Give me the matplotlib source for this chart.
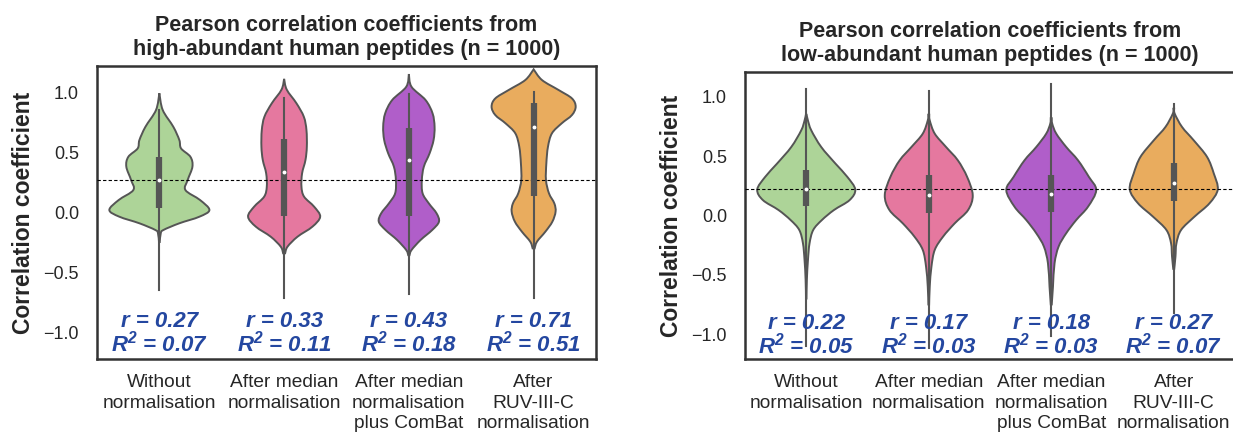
import matplotlib
matplotlib.use('Agg')
import matplotlib.pyplot as plt
from matplotlib.path import Path
from matplotlib.patches import PathPatch

plt.rcParams['font.family'] = ['Liberation Sans', 'DejaVu Sans']

methods = ['Without\nnormalisation', 'After median\nnormalisation',
           'After median\nnormalisation\nplus ComBat', 'After\nRUV-III-C\nnormalisation']
colors = ['#add498', '#e5789f', '#b05ec9', '#e9ac5e']

# violin outlines: (value, half width) pairs, high-abundant peptides
high_y = [
    [0.99, 0.85, 0.71, 0.60, 0.53, 0.46, 0.378, 0.267, 0.183, 0.10, 0.017, -0.039, -0.094, -0.15, -0.178, -0.25],
    [1.11, 1.02, 0.906, 0.794, 0.683, 0.544, 0.433, 0.322, 0.211, 0.128, 0.044, -0.039, -0.122, -0.206, -0.289, -0.344],
    [1.15, 1.044, 0.933, 0.822, 0.711, 0.60, 0.489, 0.378, 0.267, 0.156, 0.072, -0.011, -0.081, -0.15, -0.233, -0.317, -0.36],
    [1.189, 1.10, 1.017, 0.947, 0.878, 0.808, 0.739, 0.656, 0.544, 0.406, 0.267, 0.156, 0.072, 0.003, -0.081, -0.164, -0.247, -0.303],
]
high_w = [
    [0.0, 0.027, 0.112, 0.16, 0.174, 0.249, 0.265, 0.227, 0.209, 0.326, 0.401, 0.321, 0.16, 0.032, 0.011, 0.003],
    [0.0, 0.021, 0.099, 0.158, 0.179, 0.182, 0.171, 0.144, 0.139, 0.16, 0.241, 0.289, 0.227, 0.107, 0.027, 0.008],
    [0.0, 0.021, 0.134, 0.19, 0.206, 0.198, 0.166, 0.12, 0.104, 0.11, 0.16, 0.222, 0.241, 0.187, 0.094, 0.021, 0.005],
    [0.0, 0.067, 0.2, 0.307, 0.337, 0.307, 0.225, 0.147, 0.115, 0.102, 0.099, 0.123, 0.166, 0.176, 0.15, 0.094, 0.027, 0.008],
]
# box stats: whisker low, q1, median, q3, whisker high
high_box = [
    [-0.65, 0.03, 0.27, 0.46, 0.85],
    [-0.72, -0.03, 0.33, 0.61, 0.95],
    [-0.68, -0.03, 0.43, 0.70, 0.98],
    [-0.72, 0.13, 0.71, 0.91, 1.00],
]
high_r = [0.27, 0.33, 0.43, 0.71]
high_r2 = [0.07, 0.11, 0.18, 0.51]

# low-abundant peptides
low_y = [
    [0.85, 0.80, 0.718, 0.578, 0.437, 0.326, 0.219, 0.13, 0.046, -0.038, -0.122, -0.234, -0.374, -0.542, -0.7],
    [0.85, 0.802, 0.69, 0.578, 0.466, 0.326, 0.172, 0.046, -0.066, -0.178, -0.29, -0.431, -0.6, -0.75],
    [0.82, 0.774, 0.69, 0.578, 0.466, 0.326, 0.214, 0.074, -0.038, -0.15, -0.262, -0.402, -0.6, -0.75],
    [0.90, 0.858, 0.746, 0.634, 0.494, 0.354, 0.219, 0.102, -0.01, -0.122, -0.234, -0.346, -0.45],
]
low_w = [
    [0.003, 0.014, 0.041, 0.122, 0.239, 0.335, 0.40, 0.354, 0.226, 0.128, 0.057, 0.027, 0.014, 0.005, 0.002],
    [0.004, 0.008, 0.049, 0.141, 0.237, 0.313, 0.359, 0.321, 0.212, 0.117, 0.049, 0.022, 0.008, 0.003],
    [0.004, 0.008, 0.041, 0.122, 0.218, 0.307, 0.367, 0.30, 0.204, 0.122, 0.06, 0.027, 0.014, 0.004],
    [0.003, 0.008, 0.068, 0.163, 0.272, 0.327, 0.359, 0.291, 0.169, 0.06, 0.022, 0.014, 0.004],
]
low_box = [
    [-1.10, 0.08, 0.22, 0.38, 1.07],
    [-1.12, 0.02, 0.17, 0.34, 1.05],
    [-1.02, 0.03, 0.18, 0.34, 1.11],
    [-0.82, 0.12, 0.27, 0.44, 0.94],
]
low_r = [0.22, 0.17, 0.18, 0.27]
low_r2 = [0.05, 0.03, 0.03, 0.07]

titles = ['Pearson correlation coefficients from\nhigh-abundant human peptides (n = 1000)',
          'Pearson correlation coefficients from\nlow-abundant human peptides (n = 1000)']

edge = '#555555'
dark = '#262626'
text_blue = '#2447a0'


def curve_through(pts):
    # bezier segments through the points (catmull-rom style handles)
    verts, codes = [], []
    n = len(pts)
    for k in range(n - 1):
        p0 = pts[max(k - 1, 0)]
        p1 = pts[k]
        p2 = pts[k + 1]
        p3 = pts[min(k + 2, n - 1)]
        c1 = (p1[0] + (p2[0] - p0[0]) / 6, p1[1] + (p2[1] - p0[1]) / 6)
        c2 = (p2[0] - (p3[0] - p1[0]) / 6, p2[1] - (p3[1] - p1[1]) / 6)
        verts += [c1, c2, p2]
        codes += [Path.CURVE4] * 3
    return verts, codes


def violin_patch(x, ys, ws, color):
    right = [(x + w, y) for y, w in zip(ys, ws)]
    left = [(x - w, y) for y, w in zip(ys[::-1], ws[::-1])]
    v1, c1 = curve_through(right)
    v2, c2 = curve_through(left)
    verts = [right[0]] + v1 + [left[0]] + v2 + [right[0]]
    codes = [Path.MOVETO] + c1 + [Path.LINETO] + c2 + [Path.CLOSEPOLY]
    return PathPatch(Path(verts, codes), facecolor=color, edgecolor=edge,
                     linewidth=1.4, zorder=2)


def draw_panel(ax, ys, ws, boxes, rs, r2s, title, ylim):
    for i in range(len(ys)):
        ax.add_patch(violin_patch(i, ys[i], ws[i], colors[i]))
        lo, q1, med, q3, hi = boxes[i]
        ax.plot([i, i], [lo, hi], color=edge, linewidth=1.5, zorder=3)
        ax.plot([i, i], [q1, q3], color=edge, linewidth=4.5, solid_capstyle='butt', zorder=4)
        ax.plot(i, med, 'o', color='white', markersize=1.8, zorder=5)
        ax.text(i, -1.015, 'r = %.2f\n$\\mathregular{R^2}$ = %.2f' % (rs[i], r2s[i]),
                ha='center', va='center', color=text_blue, fontsize=16, fontweight='bold',
                style='italic', linespacing=0.95, zorder=6)
    ax.axhline(rs[0], color='black', linestyle='--', linewidth=0.8, dashes=(3, 2), zorder=3)
    ax.set_xlim(-0.5, len(ys) - 0.5)
    ax.set_ylim(*ylim)
    ax.set_xticks(range(len(ys)))
    ax.set_xticklabels(methods, fontsize=13.8, color=dark, linespacing=1.25)
    ax.set_yticks([-1.0, -0.5, 0.0, 0.5, 1.0])
    ax.set_yticklabels(['\u22121.0', '\u22120.5', '0.0', '0.5', '1.0'], fontsize=13, color=dark)
    ax.tick_params(axis='x', length=0, pad=11)
    ax.tick_params(axis='y', length=0, pad=13)
    ax.set_ylabel('Correlation coefficient', fontsize=16.5, fontweight='bold', color=dark, labelpad=6)
    ax.set_title(title, fontsize=15.5, fontweight='bold', color=dark, linespacing=1.2, pad=8)
    for s in ax.spines.values():
        s.set_linewidth(1.8)
        s.set_color('#333333')


fig = plt.figure(figsize=(12.33, 4.32), dpi=100)
ax1 = fig.add_axes([97 / 1233, 73 / 432, 499 / 1233, 293 / 432])
ax2 = fig.add_axes([745 / 1233, 73 / 432, 490 / 1233, 287 / 432])

draw_panel(ax1, high_y, high_w, high_box, high_r, high_r2, titles[0], (-1.225, 1.217))
draw_panel(ax2, low_y, low_w, low_box, low_r, low_r2, titles[1], (-1.21, 1.21))

fig.savefig('out.png', dpi=100)
